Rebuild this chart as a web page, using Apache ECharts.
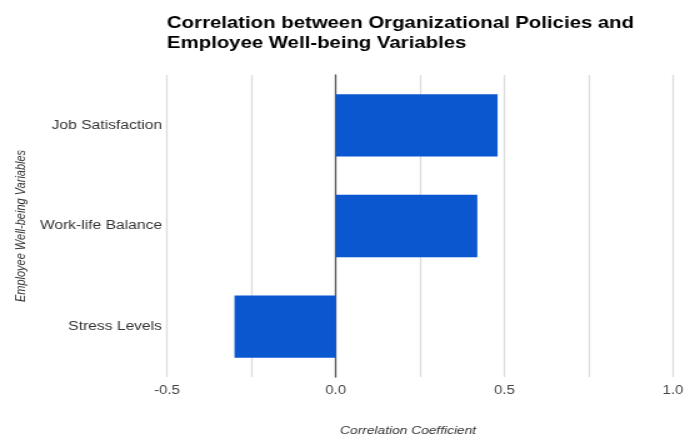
<!DOCTYPE html>
<html>
<head>
<meta charset="utf-8">
<script src="https://cdn.jsdelivr.net/npm/echarts@6/dist/echarts.min.js"></script>
<style>
  html, body { margin: 0; padding: 0; background: #fff; overflow: hidden; }
  /* the chart is laid out on a narrower canvas and widened to fill the page */
  #chart { width: 548px; height: 437px; transform: scaleX(1.25); transform-origin: 0 0; }
</style>
</head>
<body>
<div id="chart"></div>
<script>
// Well-being variables, listed top to bottom
const categories = ['Job Satisfaction', 'Work-life Balance', 'Stress Levels'];
// Correlation coefficient of each variable with organizational policies
const correlations = [0.48, 0.42, -0.30];
// Labelled positions on the correlation axis
const tickLabels = [-0.5, 0.0, 0.5, 1.0];

const font = 'Liberation Sans, Arial, sans-serif';
const chart = echarts.init(document.getElementById('chart'));

chart.setOption({
  animation: false,
  textStyle: { fontFamily: font },
  title: {
    text: 'Correlation between Organizational Policies and\nEmployee Well-being Variables',
    left: 128.6,
    top: 9,
    textStyle: { fontFamily: font, fontSize: 16.3, fontWeight: 'bold', color: '#000', lineHeight: 20 }
  },
  grid: { left: 133.6, right: 9.6, top: 75, bottom: 60, containLabel: false, outerBoundsMode: 'none' },
  xAxis: {
    type: 'value',
    min: -0.5,
    max: 1.0,
    interval: 0.25,
    name: 'Correlation Coefficient',
    nameLocation: 'middle',
    nameGap: 48,
    nameMoveOverlap: false,
    nameTextStyle: { fontStyle: 'italic', fontSize: 11, color: '#333', padding: [0, 19, 0, 0] },
    axisLine: { show: false },
    axisTick: { show: false },
    axisLabel: {
      fontSize: 12,
      color: '#444',
      margin: 8,
      formatter: v => {
        const hit = tickLabels.find(t => Math.abs(t - v) < 1e-9);
        return hit === undefined ? '' : hit.toFixed(1);
      }
    },
    splitLine: { show: true, lineStyle: { color: '#dcdcdc', width: 1.3 } }
  },
  yAxis: {
    type: 'category',
    data: categories,
    inverse: true,
    name: 'Employee Well-being Variables',
    nameLocation: 'middle',
    nameGap: 111.5,
    nameRotate: 90,
    nameMoveOverlap: false,
    nameTextStyle: { fontStyle: 'italic', fontSize: 11, color: '#333' },
    axisLine: { show: true, onZero: true, lineStyle: { color: '#555', width: 1.3 } },
    axisTick: { show: false },
    axisLabel: { fontSize: 12.5, color: '#333', margin: 4 },
    splitLine: { show: false }
  },
  series: [{
    type: 'bar',
    data: correlations,
    barCategoryGap: '38%',
    itemStyle: { color: '#0b57d0' }
  }]
});
</script>
</body>
</html>
